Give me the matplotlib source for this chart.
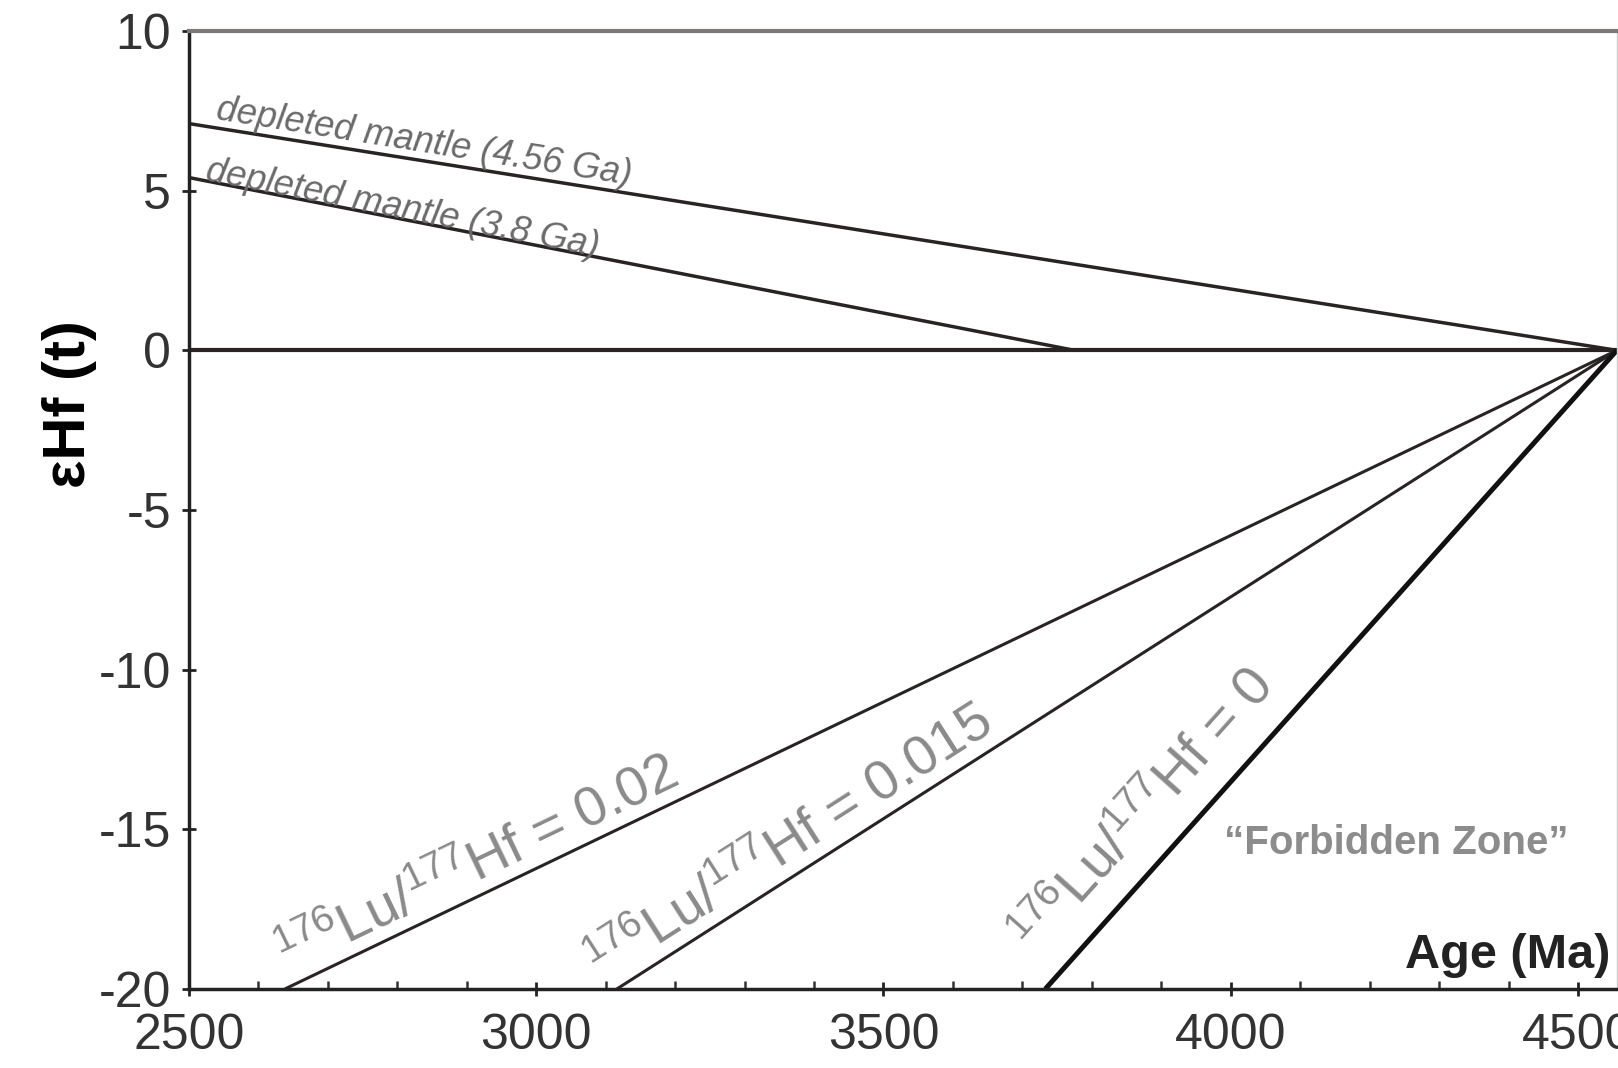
import numpy as np
import matplotlib
matplotlib.use("Agg")
import matplotlib.pyplot as plt
from matplotlib.ticker import MultipleLocator
from matplotlib.transforms import offset_copy

plt.rcParams['font.family'] = ['Liberation Sans', 'DejaVu Sans']
plt.rcParams['mathtext.fontset'] = 'custom'
plt.rcParams['mathtext.rm'] = 'Liberation Sans'
plt.rcParams['mathtext.it'] = 'Liberation Sans:italic'
plt.rcParams['mathtext.bf'] = 'Liberation Sans:bold'
plt.rcParams['axes.unicode_minus'] = False

# evolution lines: age (Ma) and eHf(t) at the two ends
age_dm456 = [2500, 4556]
ehf_dm456 = [7.1, 0.0]
age_dm38 = [2500, 3775]
ehf_dm38 = [5.41, 0.0]
age_chur = [2500, 4556]
ehf_chur = [0.0, 0.0]
age_lu002 = [2638, 4556]
ehf_lu002 = [-20.0, 0.0]
age_lu0015 = [3116, 4556]
ehf_lu0015 = [-20.0, 0.0]
age_lu0 = [3733, 4556]
ehf_lu0 = [-20.0, 0.0]

xticks = [2500, 3000, 3500, 4000, 4500]
yticks = [10, 5, 0, -5, -10, -15, -20]

line_col = '#2a2323'
lab_gray = '#8a8a8a'

fig = plt.figure(figsize=(16.18, 10.68), dpi=100)
ax = fig.add_axes([189 / 1618, 79 / 1068, 1428 / 1618, 958 / 1068])
ax.set_xlim(2500, 4556.2)
ax.set_ylim(-20, 10)

ax.plot(age_dm456, ehf_dm456, color=line_col, lw=2.5, solid_capstyle='butt')
ax.plot(age_dm38, ehf_dm38, color=line_col, lw=2.5, solid_capstyle='butt')
ax.plot(age_chur, ehf_chur, color=line_col, lw=3.0, solid_capstyle='butt')
ax.plot(age_lu002, ehf_lu002, color=line_col, lw=2.2, solid_capstyle='butt')
ax.plot(age_lu0015, ehf_lu0015, color=line_col, lw=2.2, solid_capstyle='butt')
ax.plot(age_lu0, ehf_lu0, color='#111111', lw=3.6, solid_capstyle='butt')


def line_label(xs, ys, txt, lift, **kw):
    # put text along a line, starting at its first point, lifted by `lift` points
    p0 = ax.transData.transform((xs[0], ys[0]))
    p1 = ax.transData.transform((xs[1], ys[1]))
    ang = np.degrees(np.arctan2(p1[1] - p0[1], p1[0] - p0[0]))
    th = np.radians(ang)
    tr = offset_copy(ax.transData, fig=fig, x=-np.sin(th) * lift,
                     y=np.cos(th) * lift, units='points')
    ax.text(xs[0], ys[0], txt, rotation=ang, rotation_mode='anchor',
            ha='left', va='baseline', transform=tr, **kw)


line_label([2536, age_dm456[1]], [7.1 * (1 - 36 / 2056), 0], 'depleted mantle (4.56 Ga)',
           6, fontsize=26, style='italic', color='#6a6a6a')
line_label([2522, age_dm38[1]], [5.41 * (1 - 22 / 1275), 0], 'depleted mantle (3.8 Ga)',
           0, fontsize=26, style='italic', color='#6a6a6a')
line_label([2650, 4556], [-20 + 12 * 20 / 1918, 0], r'$^{176}$Lu/$^{177}$Hf = 0.02', 9,
           fontsize=40, color=lab_gray)
line_label([3105, 4556], [-20 - 11 * 20 / 1440, 0], r'$^{176}$Lu/$^{177}$Hf = 0.015', 10,
           fontsize=40, color=lab_gray)
line_label([3750, 4556], [-20 + 17 * 20 / 823, 0], r'$^{176}$Lu/$^{177}$Hf = 0', 21,
           fontsize=40, color=lab_gray)

ax.text(3990, -15.77, '\u201cForbidden Zone\u201d', fontsize=29, fontweight='bold',
        color='#8c8c8c', ha='left', va='baseline')
ax.text(4546, -19.34, 'Age (Ma)', fontsize=35, fontweight='bold', color='#222222',
        ha='right', va='baseline')
ax.set_ylabel('\u03b5Hf (t)', fontsize=43, fontweight='bold', va='center')
ax.yaxis.set_label_coords(-0.084, 0.6107)

ax.set_xticks(xticks)
ax.set_yticks(yticks)
ax.xaxis.set_minor_locator(MultipleLocator(100))
ax.tick_params(axis='both', which='major', direction='inout', length=10, width=2,
               labelsize=36, labelcolor='#333333', color='#222222')
ax.tick_params(axis='x', which='major', pad=12)
ax.tick_params(axis='y', which='major', pad=8)
ax.tick_params(axis='x', which='minor', direction='in', length=6, width=1.8,
               color='#333333')

for s in ['left', 'bottom']:
    ax.spines[s].set_linewidth(2.5)
    ax.spines[s].set_color('#222222')
ax.spines['top'].set_linewidth(3)
ax.spines['top'].set_color('#7d7775')
ax.spines['right'].set_linewidth(1)
ax.spines['right'].set_color('#cccccc')

fig.savefig('out.png', dpi=100)
